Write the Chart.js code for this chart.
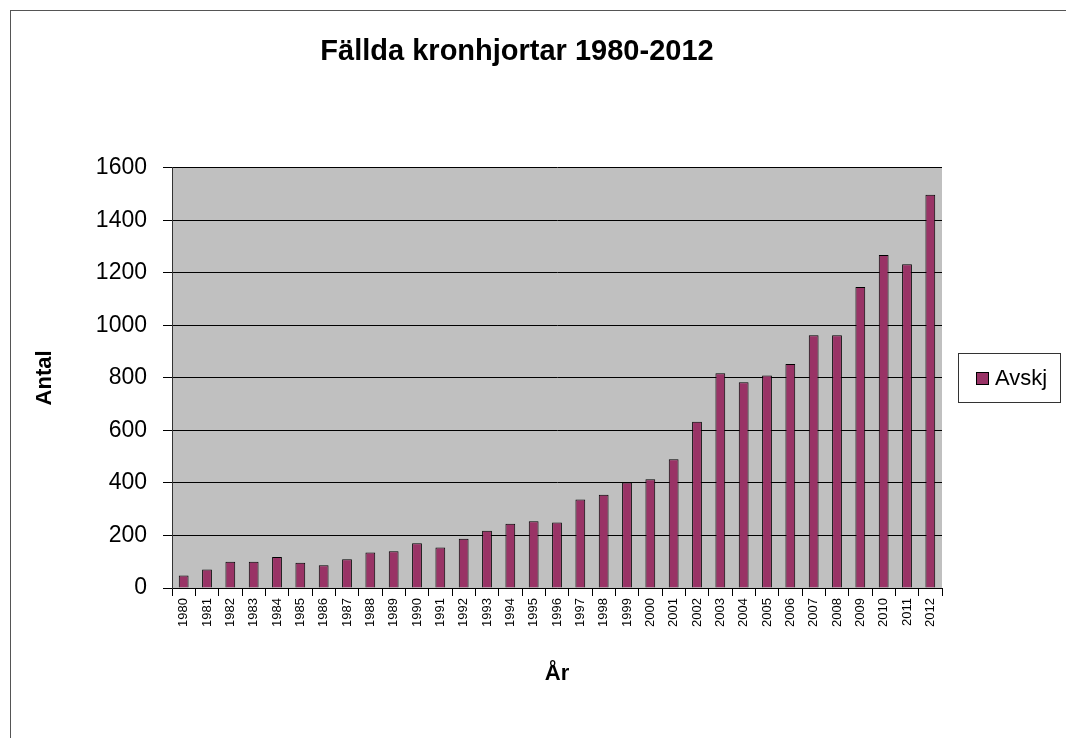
<!DOCTYPE html>
<html>
<head>
<meta charset="utf-8">
<title>Fällda kronhjortar 1980-2012</title>
<script src="https://cdn.jsdelivr.net/npm/chart.js@4.4.0/dist/chart.umd.min.js"></script>
<style>
    html, body { margin: 0; padding: 0; background: #fff; overflow: hidden; }
    #wrap { position: relative; width: 1066px; height: 738px; }
    #frame {
        position: absolute; left: 10px; top: 10px;
        width: 1200px; height: 900px;
        border: 1px solid #555; pointer-events: none;
    }
    canvas { position: absolute; left: 0; top: 0; }
</style>
</head>
<body>
<div id="wrap">
    <canvas id="deerChart" width="1066" height="738"></canvas>
    <div id="frame"></div>
</div>
<script>
var years = ['1980', '1981', '1982', '1983', '1984', '1985', '1986', '1987', '1988', '1989',
    '1990', '1991', '1992', '1993', '1994', '1995', '1996', '1997', '1998', '1999',
    '2000', '2001', '2002', '2003', '2004', '2005', '2006', '2007', '2008', '2009',
    '2010', '2011', '2012'];

var avskj = [48, 70, 100, 100, 118, 96, 87, 109, 135, 140,
    170, 154, 188, 218, 245, 254, 249, 337, 355, 402,
    414, 490, 633, 818, 783, 809, 853, 962, 962, 1146,
    1268, 1233, 1497];

var seriesName = 'Avskj';
var chartTitle = 'Fällda kronhjortar 1980-2012';
var yTitle = 'Antal';
var xTitle = 'År';

var plum = '#993366';
var font = 'Liberation Sans, Arial, sans-serif';

// grey plot background like the old excel charts
var plotBackground = {
    id: 'plotBackground',
    beforeDraw: function (chart) {
        var a = chart.chartArea;
        var ctx = chart.ctx;
        ctx.save();
        ctx.fillStyle = '#c0c0c0';
        ctx.fillRect(a.left, a.top, a.right - a.left, a.bottom - a.top);
        ctx.restore();
    }
};

// boxed legend on the right, centred on the plot
var boxLegend = {
    id: 'boxLegend',
    afterDraw: function (chart) {
        var a = chart.chartArea;
        var ctx = chart.ctx;
        var ds = chart.data.datasets[0];
        var w = 102, h = 49;
        var x = a.right + 16;
        var y = Math.round((a.top + a.bottom) / 2 - h / 2);
        ctx.save();
        ctx.fillStyle = '#fff';
        ctx.fillRect(x, y, w, h);
        ctx.strokeStyle = '#333';
        ctx.lineWidth = 1;
        ctx.strokeRect(x + 0.5, y + 0.5, w, h);
        ctx.fillStyle = ds.backgroundColor;
        ctx.fillRect(x + 18, y + 19, 13, 13);
        ctx.strokeStyle = '#000';
        ctx.strokeRect(x + 18.5, y + 19.5, 12, 12);
        ctx.fillStyle = '#000';
        ctx.font = '22px ' + font;
        ctx.textBaseline = 'middle';
        ctx.fillText(ds.label, x + 37, y + 26);
        ctx.restore();
    }
};

var ctx = document.getElementById('deerChart');
var deerChart = new Chart(ctx, {
    type: 'bar',
    data: {
        labels: years,
        datasets: [{
            label: seriesName,
            data: avskj,
            backgroundColor: plum,
            borderColor: '#000',
            borderWidth: 1,
            categoryPercentage: 1,
            barPercentage: 0.42
        }]
    },
    options: {
        responsive: false,
        animation: false,
        layout: {
            padding: { left: 0, right: 32, top: 0, bottom: 51 }
        },
        plugins: {
            legend: { display: false },
            tooltip: { enabled: false },
            title: {
                display: true,
                text: chartTitle,
                color: '#000',
                font: { family: font, size: 29, weight: 'bold' },
                padding: { top: 35, bottom: 98 }
            }
        },
        scales: {
            x: {
                grid: {
                    offset: true,
                    drawOnChartArea: false,
                    drawTicks: true,
                    tickLength: 8,
                    color: '#000'
                },
                border: { color: '#000' },
                ticks: {
                    color: '#000',
                    font: { family: font, size: 13 },
                    minRotation: 90,
                    maxRotation: 90,
                    autoSkip: false,
                    padding: 2
                },
                title: {
                    display: true,
                    text: xTitle,
                    color: '#000',
                    font: { family: font, size: 22, weight: 'bold' },
                    padding: 0
                },
                afterFit: function (scale) {
                    scale.height = 99;
                }
            },
            y: {
                min: 0,
                max: 1600,
                grid: {
                    color: '#000',
                    lineWidth: 1,
                    tickLength: 9
                },
                border: { color: '#333' },
                ticks: {
                    stepSize: 200,
                    color: '#000',
                    font: { family: font, size: 23 },
                    padding: 16,
                    callback: function (v) { return String(v); }
                },
                title: {
                    display: true,
                    text: yTitle,
                    color: '#000',
                    font: { family: font, size: 22, weight: 'bold' },
                    padding: { top: 32, bottom: 0 }
                },
                afterFit: function (scale) {
                    scale.width = 172;
                }
            },
            // empty axis that only reserves room for the legend box
            side: {
                position: 'right',
                grid: { display: false },
                border: { display: false },
                ticks: { display: false },
                afterFit: function (scale) {
                    scale.width = 92;
                }
            }
        }
    },
    plugins: [plotBackground, boxLegend]
});
</script>
</body>
</html>
